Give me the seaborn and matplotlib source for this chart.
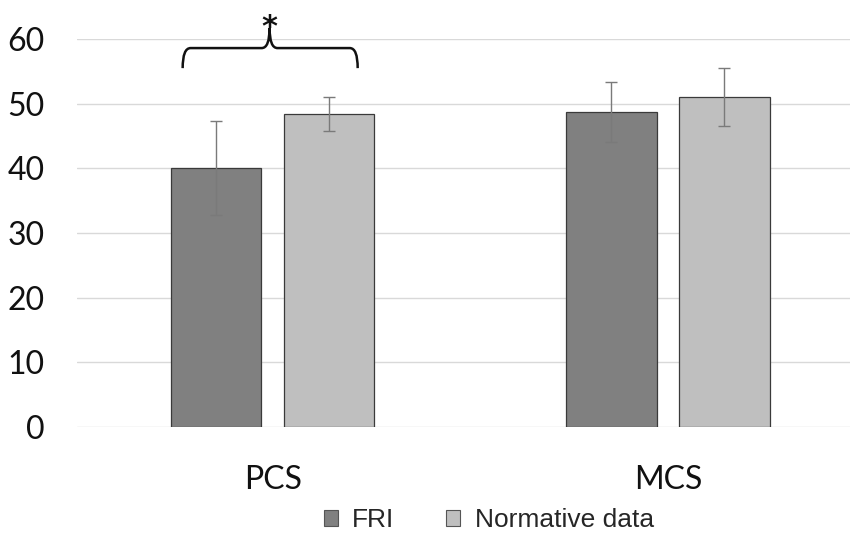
import matplotlib
matplotlib.use("Agg")
import matplotlib.pyplot as plt
from matplotlib.path import Path
from matplotlib.patches import PathPatch, Patch
import seaborn as sns
import pandas as pd
import numpy as np

categories = ["PCS", "MCS"]
groups = ["FRI", "Normative data"]
fri_mean = [40.1, 48.7]
fri_sd = [7.3, 4.6]
norm_mean = [48.4, 51.0]
norm_sd = [2.6, 4.5]
yticks = [0, 10, 20, 30, 40, 50, 60]

colors = {"FRI": "#808080", "Normative data": "#bfbfbf"}

df = pd.DataFrame({
    "cat": categories * 2,
    "group": [groups[0]] * 2 + [groups[1]] * 2,
    "mean": fri_mean + norm_mean,
    "sd": fri_sd + norm_sd,
})

sns.set_style("white")
plt.rcParams["font.family"] = ["Lato", "DejaVu Sans"]

fig = plt.figure(figsize=(8.53, 5.42), dpi=100)
ax = fig.add_axes([0.090, 0.212, 0.906, 0.716])

sns.barplot(data=df, x="cat", y="mean", hue="group", order=categories,
            hue_order=groups, palette=colors, width=0.572, gap=0.2,
            errorbar=None, edgecolor="#3a3a3a", linewidth=0.9,
            legend=False, ax=ax)

bars = list(ax.patches)
for p in bars:
    p.set_zorder(2)

# error bars at bar centers
for patch, (_, row) in zip(bars, df.iterrows()):
    xc = patch.get_x() + patch.get_width() / 2
    eb = ax.errorbar(xc, row["mean"], yerr=row["sd"], fmt="none",
                     ecolor="#7a7a7a", elinewidth=1.0, capsize=4,
                     capthick=1.0, zorder=6)
    for art in eb.lines[1] + eb.lines[2]:
        art.set_zorder(6)

ax.set_ylim(0, 60)
ax.set_xlim(-0.496, 1.46)
ax.set_yticks(yticks)
ax.yaxis.grid(True, color="#d9d9d9", linewidth=1.0, zorder=0)
ax.set_axisbelow(True)
for s in ax.spines.values():
    s.set_visible(False)
ax.tick_params(axis="both", length=0, labelsize=23, colors="#111111")
ax.tick_params(axis="y", pad=23)
ax.tick_params(axis="x", pad=27)
ax.set_xlabel("")
ax.set_ylabel("")

# significance brace over PCS
xl, xr, xm = -0.228, 0.215, -0.008
yb, yh, yp = 55.5, 58.6, 61.7
r = 0.02
verts = [
    (xl, yb), (xl, yh), (xl + r, yh),
    (xm - r, yh), (xm, yh), (xm, yp),
    (xm, yh), (xm + r, yh),
    (xr - r, yh), (xr, yh), (xr, yb),
]
codes = [Path.MOVETO, Path.CURVE3, Path.CURVE3,
         Path.LINETO, Path.CURVE3, Path.CURVE3,
         Path.CURVE3, Path.CURVE3,
         Path.LINETO, Path.CURVE3, Path.CURVE3]
brace = PathPatch(Path(verts, codes), facecolor="none", edgecolor="#111111",
                  linewidth=1.8, clip_on=False, zorder=5)
ax.add_patch(brace)
ax.text(xm, 60.5, "*", ha="center", va="baseline", fontsize=22,
        fontweight="bold", color="#111111", clip_on=False,
        family="DejaVu Sans")

handles = [Patch(facecolor=colors[g], edgecolor="#555555", linewidth=0.8)
           for g in groups]
fig.legend(handles, groups, loc="center", bbox_to_anchor=(0.573, 0.040),
           ncol=2, frameon=False, prop={"family": "Liberation Sans", "size": 19},
           handlelength=0.53, handleheight=0.53, handletextpad=0.55,
           columnspacing=1.95)

fig.savefig("out.png", dpi=100)
